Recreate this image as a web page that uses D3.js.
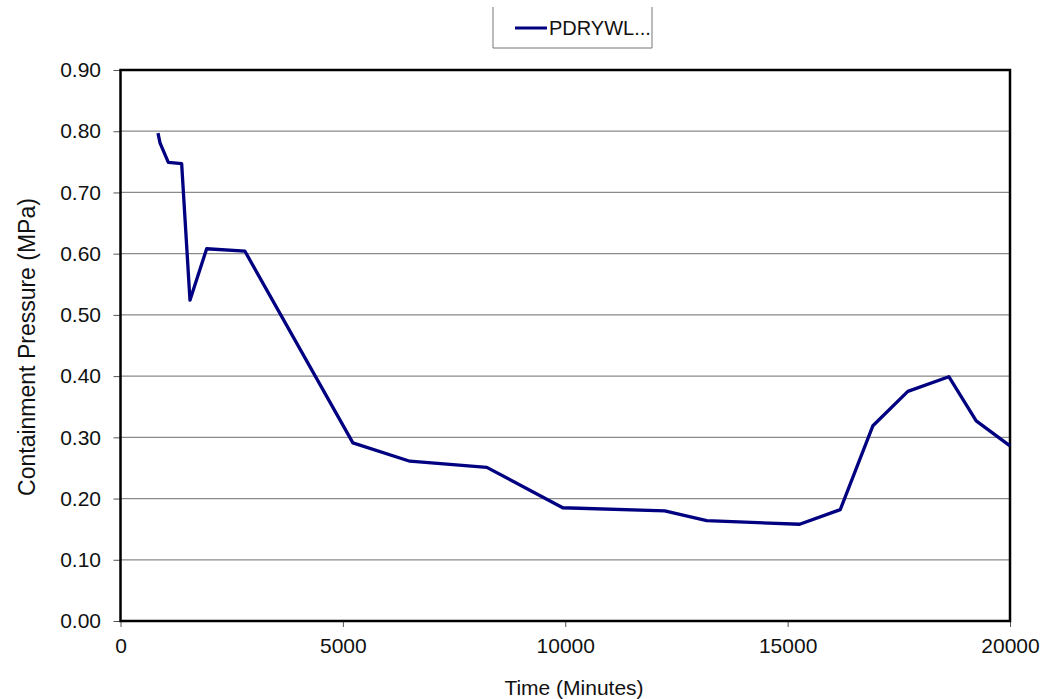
<!DOCTYPE html>
<html>
<head>
<meta charset="utf-8">
<script src="https://cdn.jsdelivr.net/npm/d3@7"></script>
<style>
body { margin: 0; background: #fff; }
text { font-family: "Liberation Sans", Arial, sans-serif; }
</style>
</head>
<body>
<div id="chart"></div>
<script>
// time in minutes, containment pressure in MPa
var times = [843, 888, 1075, 1375, 1562, 1937, 2798, 5225, 6506, 8236, 9944, 12236, 13180, 15270, 16184, 16918, 17703, 18625, 19240, 20000];
var pressures = [0.797, 0.781, 0.749, 0.747, 0.524, 0.608, 0.604, 0.291, 0.261, 0.251, 0.185, 0.180, 0.164, 0.158, 0.182, 0.319, 0.375, 0.399, 0.327, 0.286];
var xTicks = [0, 5000, 10000, 15000, 20000];
var yTicks = [0, 0.1, 0.2, 0.3, 0.4, 0.5, 0.6, 0.7, 0.8, 0.9];
var seriesName = "PDRYWL...";

var margin = {top: 70, right: 32, bottom: 78, left: 120.5};
var width = 1042, height = 699;
var w = width - margin.left - margin.right;
var h = height - margin.top - margin.bottom;

var svg = d3.select("#chart")
	.append("svg")
	.attr("width", width)
	.attr("height", height);

var g = svg.append("g")
	.attr("transform", "translate(" + margin.left + "," + margin.top + ")");

var x = d3.scaleLinear().domain([0, 20000]).range([0, w]);
var y = d3.scaleLinear().domain([0, 0.9]).range([h, 0]);

// gridlines
g.selectAll("line.grid")
	.data(yTicks.slice(1, -1))
	.enter()
	.append("line")
	.attr("class", "grid")
	.attr("x1", 0).attr("x2", w)
	.attr("y1", function(d) { return y(d); })
	.attr("y2", function(d) { return y(d); })
	.attr("stroke", "#8a8a8a")
	.attr("stroke-width", 1.2);

var yAxis = g.append("g")
	.call(d3.axisLeft(y).tickValues(yTicks).tickFormat(d3.format(".2f")).tickSize(7).tickPadding(12.5));
var xAxis = g.append("g")
	.attr("transform", "translate(0," + h + ")")
	.call(d3.axisBottom(x).tickValues(xTicks).tickFormat(d3.format("d")).tickSize(6).tickPadding(11));

[yAxis, xAxis].forEach(function(a) {
	a.select(".domain").remove();
	a.selectAll(".tick line").attr("stroke", "#555");
	a.selectAll("text")
		.style("font-size", "21px")
		.style("font-family", "Liberation Sans, Arial, sans-serif")
		.attr("fill", "#111");
});

// plot border
g.append("rect")
	.attr("x", 0).attr("y", 0)
	.attr("width", w).attr("height", h)
	.attr("fill", "none")
	.attr("stroke", "#000")
	.attr("stroke-width", 2.5);

var line = d3.line()
	.x(function(d) { return x(d[0]); })
	.y(function(d) { return y(d[1]); });

g.append("path")
	.datum(d3.zip(times, pressures))
	.attr("d", line)
	.attr("fill", "none")
	.attr("stroke", "#000080")
	.attr("stroke-width", 3.3)
	.attr("stroke-linejoin", "round");

// axis titles
svg.append("text")
	.attr("x", 574)
	.attr("y", 695)
	.attr("text-anchor", "middle")
	.style("font-size", "21px")
	.attr("fill", "#111")
	.text("Time (Minutes)");

svg.append("text")
	.attr("transform", "translate(35,347) rotate(-90)")
	.attr("text-anchor", "middle")
	.style("font-size", "23px")
	.attr("fill", "#111")
	.text("Containment Pressure (MPa)");

// legend (open-top box)
var lg = svg.append("g");
lg.append("path")
	.attr("d", "M493,7 V48 H652 V7")
	.attr("fill", "none")
	.attr("stroke", "#777")
	.attr("stroke-width", 1);
lg.append("line")
	.attr("x1", 515).attr("x2", 547)
	.attr("y1", 28).attr("y2", 28)
	.attr("stroke", "#000080")
	.attr("stroke-width", 3);
lg.append("text")
	.attr("x", 549)
	.attr("y", 34.5)
	.style("font-size", "20px")
	.attr("fill", "#111")
	.text(seriesName);
</script>
</body>
</html>
